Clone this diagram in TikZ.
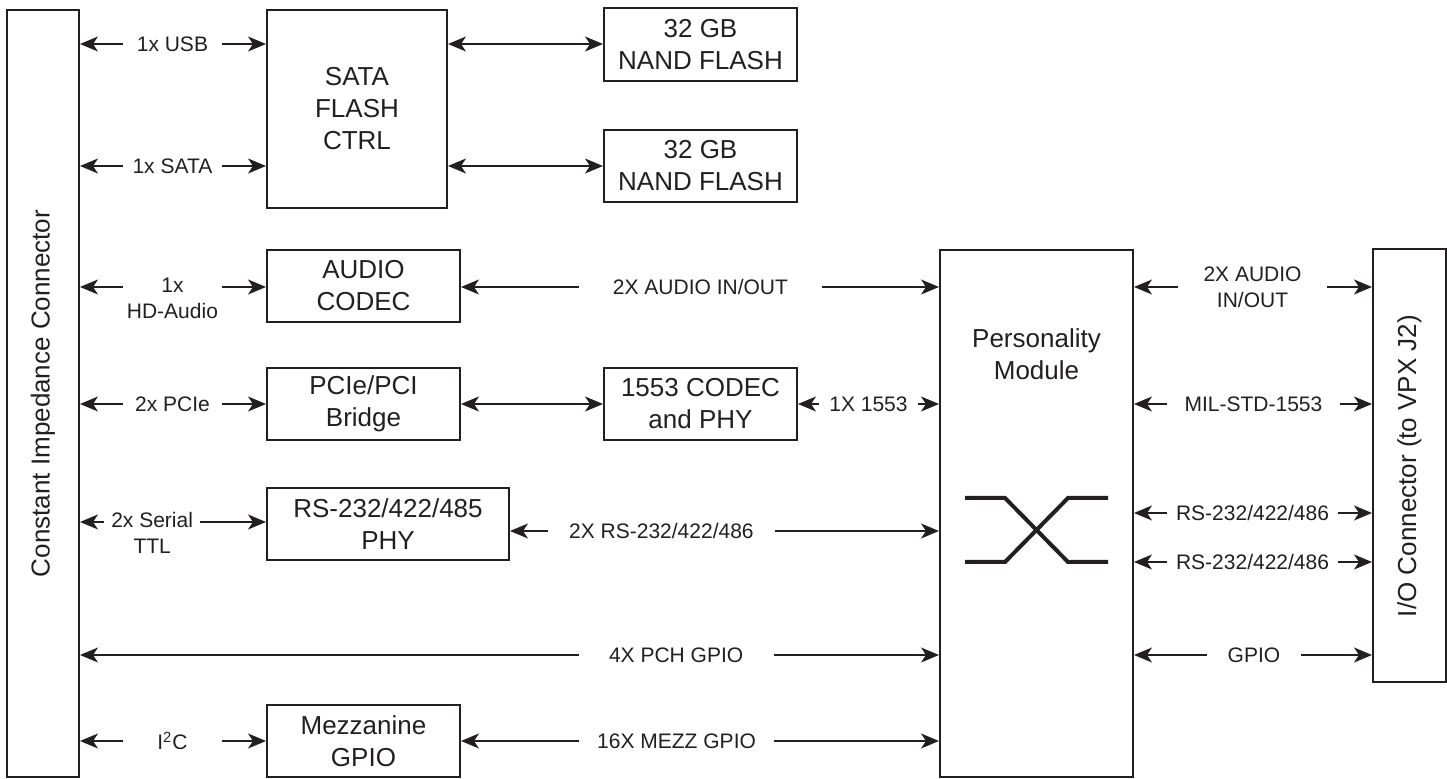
\documentclass[tikz,border=0pt]{standalone}
\usepackage{fontspec}
\setmainfont{Liberation Sans}
\usetikzlibrary{arrows.meta}
\definecolor{ink}{HTML}{231F20}
\newcommand{\boxfont}{\fontsize{13}{16}\selectfont}
\newcommand{\lblfont}{\fontsize{10.5}{13}\selectfont}
\newcommand{\twoline}[2]{\begin{tabular}[t]{@{}c@{}}#1\\#2\end{tabular}}
\begin{document}
\begin{tikzpicture}[x=0.5pt,y=-0.5pt,
  box/.style={draw=ink, line width=1pt, fill=white, inner sep=0pt, align=center, font=\boxfont, text=ink},
  conn/.style={draw=ink, line width=0.8pt,
    {Stealth[length=9pt,width=7.5pt,inset=2.5pt]}-{Stealth[length=9pt,width=7.5pt,inset=2.5pt]}},
  lbl/.style={fill=white, inner xsep=0pt, inner ysep=1pt, font=\lblfont, text=ink, align=center},
  crossline/.style={draw=ink, line width=2pt},
  vtext/.style={rotate=90, font=\boxfont, text=ink},
]
\useasboundingbox (0,0) rectangle (1447,779);

% boxes
\node[box, minimum width=36pt, minimum height=383.5pt,
  label={[vtext]center:Constant Impedance Connector}] (cic) at (43,393.5) {};
\node[box, minimum width=90pt, minimum height=99pt] (sata) at (357,109) {SATA\\FLASH\\CTRL};
\node[box, minimum width=96.5pt, minimum height=36.5pt] (nand1) at (700.5,44.5) {32 GB\\NAND FLASH};
\node[box, minimum width=96.5pt, minimum height=36pt] (nand2) at (700.5,166) {32 GB\\NAND FLASH};
\node[box, minimum width=96.5pt, minimum height=36pt] (audio) at (363.5,286) {AUDIO\\CODEC};
\node[box, minimum width=96.5pt, minimum height=36pt] (pcie) at (363.5,404) {PCIe/PCI\\Bridge};
\node[box, minimum width=96.5pt, minimum height=36pt] (c1553) at (700.5,404) {1553 CODEC\\and PHY};
\node[box, minimum width=121pt, minimum height=36pt] (rs) at (388,524) {RS-232/422/485\\PHY};
\node[box, minimum width=96.5pt, minimum height=36pt] (mezz) at (363.5,741) {Mezzanine\\GPIO};
\node[box, minimum width=96.5pt, minimum height=263.5pt] (pm) at (1036.5,513.5) {};
\node[font=\boxfont, text=ink, align=center] (pmtext) at (1036.5,354) {Personality\\Module};
\node[box, minimum width=36.5pt, minimum height=216.5pt,
  label={[vtext]center:I/O Connector (to VPX J2)}] (io) at (1409.5,466) {};

% crossing symbol
\draw[crossline] (965,498) -- (1005,498) -- (1068,562) -- (1108,562);
\draw[crossline] (965,562) -- (1005,562) -- (1068,498) -- (1108,498);

% y levels
\coordinate (yusb) at (0,44);
\coordinate (ysata) at (0,166);
\coordinate (yaud) at (0,287);
\coordinate (ypci) at (0,404);
\coordinate (yser) at (0,522);
\coordinate (yrs) at (0,531);
\coordinate (yrsa) at (0,513);
\coordinate (yrsb) at (0,562);
\coordinate (ygpio) at (0,655);
\coordinate (yi2c) at (0,741);

% left connectors
\draw[conn] (cic.east |- yusb) -- (sata.west |- yusb)
  node[lbl, pos=0.497, minimum width=49.5pt] {1x USB};
\draw[conn] (cic.east |- ysata) -- (sata.west |- ysata)
  node[lbl, pos=0.497, minimum width=49.5pt] {1x SATA};
\draw[conn] (cic.east |- yaud) -- (audio.west |- yaud)
  node[lbl, pos=0.497, minimum width=49.5pt, anchor=mid] {\twoline{1x}{HD-Audio}};
\draw[conn] (cic.east |- ypci) -- (pcie.west |- ypci)
  node[lbl, pos=0.497, minimum width=49.5pt] {2x PCIe};
\draw[conn] (cic.east |- yser) -- (rs.west |- yser)
  node[lbl, pos=0.388, minimum width=48pt, anchor=mid] {\twoline{2x Serial}{TTL}};
\draw[conn] (cic.east |- ygpio) -- (pm.west |- ygpio)
  node[lbl, pos=0.694, minimum width=97.5pt] {4X PCH GPIO};
\draw[conn] (cic.east |- yi2c) -- (mezz.west |- yi2c)
  node[lbl, pos=0.497, minimum width=49.5pt] {I\textsuperscript{2}C};

% flash
\draw[conn] (sata.east |- yusb) -- (nand1.west |- yusb);
\draw[conn] (sata.east |- ysata) -- (nand2.west |- ysata);

% middle connectors
\draw[conn] (audio.east |- yaud) -- (pm.west |- yaud)
  node[lbl, pos=0.501, minimum width=121.5pt] {2X AUDIO IN/OUT};
\draw[conn] (pcie.east |- ypci) -- (c1553.west |- ypci);
\draw[conn] (c1553.east |- ypci) -- (pm.west |- ypci)
  node[lbl, pos=0.5, minimum width=49.5pt] {1X 1553};
\draw[conn] (rs.east |- yrs) -- (pm.west |- yrs)
  node[lbl, pos=0.353, minimum width=113.5pt] {2X RS-232/422/486};
\draw[conn] (mezz.east |- yi2c) -- (pm.west |- yi2c)
  node[lbl, pos=0.451, minimum width=97.5pt] {16X MEZZ GPIO};

% right connectors
\draw[conn] (pm.east |- yaud) -- (io.west |- yaud)
  node[lbl, pos=0.498, minimum width=74.5pt] {2X AUDIO\\IN/OUT};
\draw[conn] (pm.east |- ypci) -- (io.west |- ypci)
  node[lbl, pos=0.502, minimum width=86.5pt] {MIL-STD-1553};
\draw[conn] (pm.east |- yrsa) -- (io.west |- yrsa)
  node[lbl, pos=0.498, minimum width=85.5pt] {RS-232/422/486};
\draw[conn] (pm.east |- yrsb) -- (io.west |- yrsb)
  node[lbl, pos=0.498, minimum width=85.5pt] {RS-232/422/486};
\draw[conn] (pm.east |- ygpio) -- (io.west |- ygpio)
  node[lbl, pos=0.504, minimum width=47pt] {GPIO};
\end{tikzpicture}
\end{document}
